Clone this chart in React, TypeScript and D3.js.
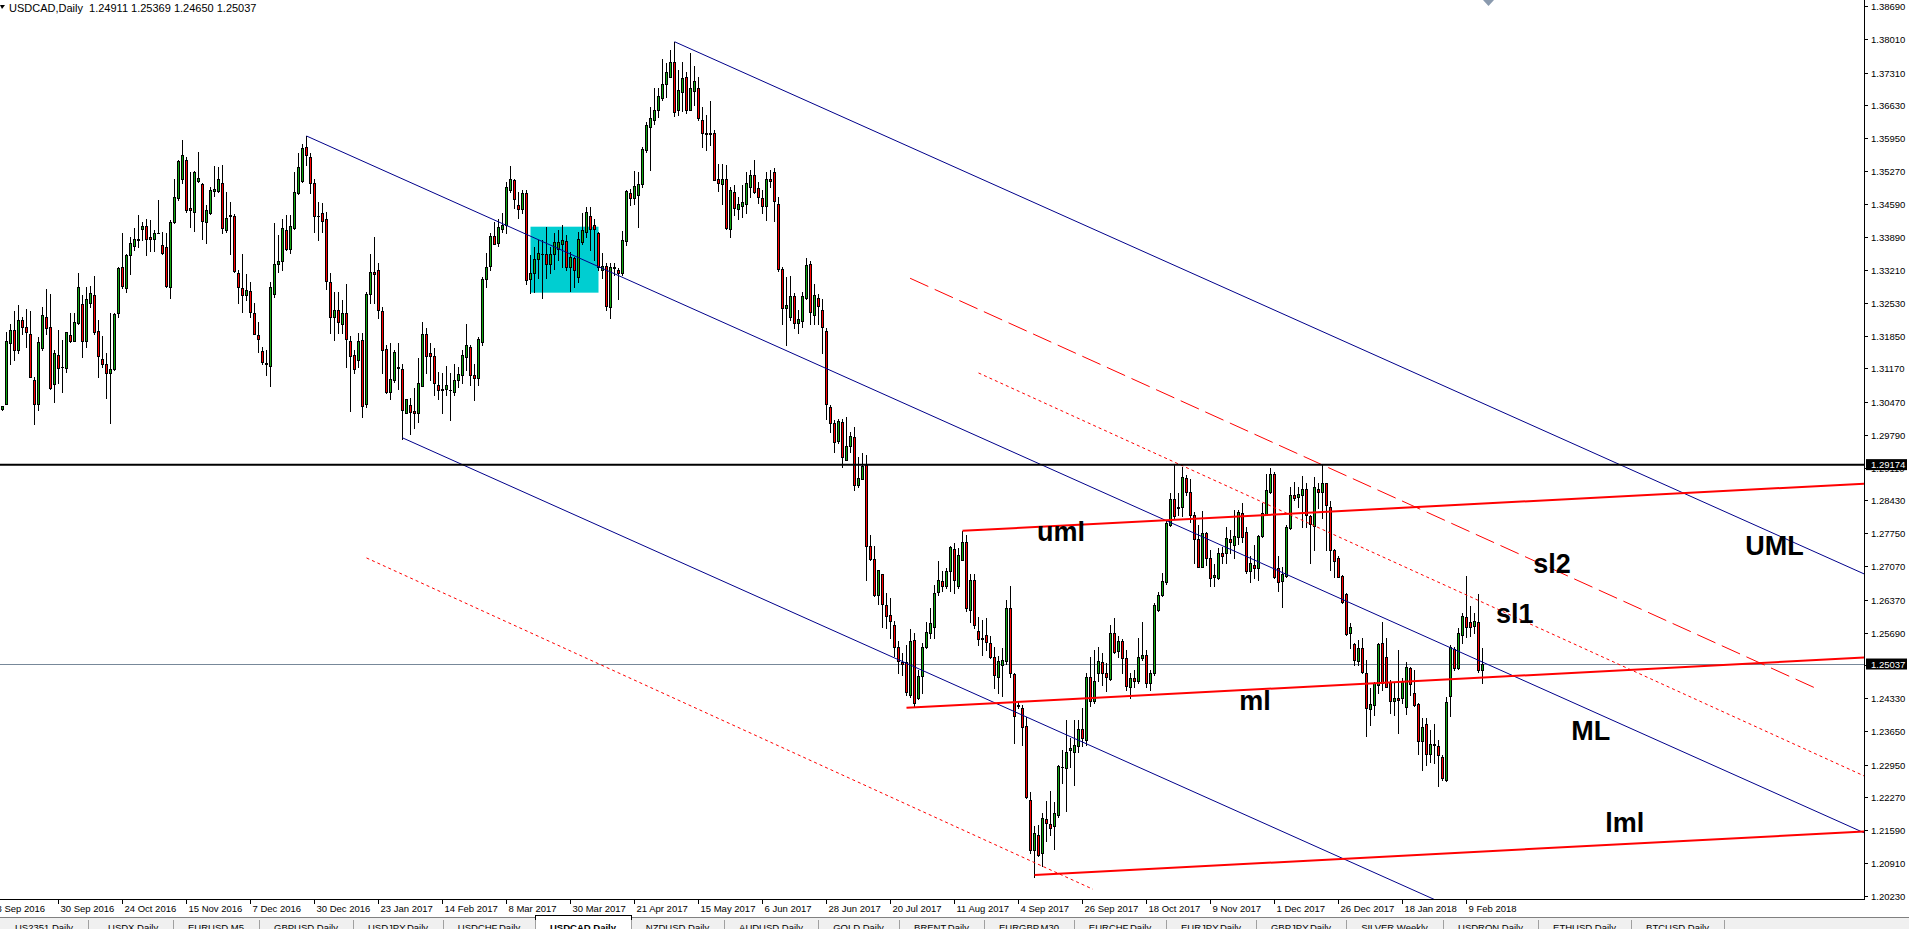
import { useEffect, useRef } from 'react';
import * as d3 from 'd3';

const symbol = 'USDCAD,Daily';

// daily bars from 12 Sep 2016, [open, high, low, close] in pips
const ohlc: number[][] = [
  [13032,13039,13030,13039],[13044,13193,13043,13173],[13169,13209,13127,13196],[13196,13236,13135,13155],
  [13156,13248,13148,13217],[13218,13224,13189,13202],[13203,13241,13162,13192],[13189,13236,13099,13099],
  [13094,13099,13001,13044],[13044,13182,13030,13171],[13160,13245,13155,13227],[13223,13281,13189,13200],
  [13202,13272,13075,13077],[13084,13155,13048,13148],[13144,13196,13086,13117],[13121,13176,13068,13119],
  [13117,13193,13110,13192],[13187,13232,13172,13174],[13174,13231,13174,13214],[13212,13314,13210,13285],
  [13250,13269,13140,13174],[13174,13286,13162,13262],[13253,13288,13245,13274],[13269,13308,13189,13193],
  [13194,13217,13099,13143],[13136,13184,13120,13127],[13127,13148,13055,13108],[13108,13231,13004,13115],
  [13115,13233,13113,13229],[13232,13328,13224,13326],[13327,13399,13283,13288],[13283,13355,13276,13352],
  [13353,13390,13313,13377],[13372,13409,13362,13385],[13383,13435,13369,13386],[13407,13421,13384,13412],
  [13413,13428,13353,13386],[13390,13425,13361,13386],[13386,13404,13361,13397],[13397,13466,13397,13399],
  [13374,13400,13355,13357],[13368,13397,13286,13288],[13287,13425,13264,13420],[13421,13511,13418,13472],
  [13470,13550,13466,13547],[13510,13591,13501,13559],[13550,13556,13442,13445],[13449,13525,13411,13445],
  [13442,13527,13402,13525],[13506,13566,13504,13512],[13499,13501,13386,13423],[13421,13456,13377,13445],
  [13440,13494,13438,13487],[13485,13537,13474,13490],[13485,13535,13483,13511],[13501,13539,13397,13409],
  [13405,13483,13400,13430],[13434,13463,13355,13436],[13434,13438,13317,13319],[13314,13321,13253,13286],
  [13283,13355,13234,13270],[13270,13313,13259,13279],[13277,13297,13224,13234],[13233,13252,13188,13189],
  [13186,13214,13151,13178],[13153,13162,13127,13131],[13129,13155,13103,13126],[13122,13297,13081,13285],
  [13272,13418,13265,13333],[13333,13393,13317,13339],[13340,13428,13321,13409],[13404,13435,13362,13364],
  [13364,13435,13357,13413],[13409,13525,13407,13483],[13480,13563,13478,13534],[13506,13582,13504,13575],
  [13576,13599,13539,13559],[13555,13563,13481,13502],[13501,13511,13400,13434],[13434,13463,13383,13433],
  [13440,13460,13400,13423],[13427,13442,13281,13299],[13297,13314,13191,13224],[13224,13276,13176,13239],
  [13239,13276,13191,13214],[13209,13259,13190,13231],[13231,13293,13119,13179],[13174,13185,13029,13143],
  [13144,13155,13107,13115],[13134,13190,13119,13174],[13176,13190,13017,13040],[13043,13276,13037,13271],
  [13271,13354,13252,13318],[13318,13390,13252,13313],[13321,13335,13221,13238],[13236,13245,13107,13156],
  [13158,13165,13065,13069],[13069,13169,13053,13096],[13093,13155,13089,13152],[13121,13169,13075,13117],
  [13115,13127,12970,13031],[13024,13053,13024,13053],[13042,13055,12981,13027],[13029,13076,12993,13024],
  [13025,13138,13006,13086],[13080,13213,13080,13188],[13188,13200,13107,13143],[13148,13170,13093,13143],
  [13143,13159,13062,13086],[13082,13110,13053,13072],[13074,13107,13025,13072],[13075,13122,13062,13082],
  [13072,13107,13010,13072],[13069,13127,13062,13093],[13094,13120,13079,13105],[13104,13155,13086,13144],
  [13140,13210,13114,13165],[13161,13165,13082,13103],[13103,13127,13051,13098],[13098,13183,13082,13179],
  [13172,13307,13165,13302],[13302,13357,13286,13327],[13330,13397,13322,13392],[13392,13421,13375,13376],
  [13378,13428,13371,13410],[13407,13439,13401,13414],[13414,13504,13397,13493],[13487,13537,13484,13511],
  [13508,13511,13449,13468],[13456,13484,13430,13447],[13447,13487,13439,13481],[13482,13487,13293,13300],
  [13302,13352,13274,13314],[13314,13369,13276,13345],[13345,13383,13304,13356],[13354,13383,13264,13354],
  [13354,13411,13304,13333],[13333,13369,13315,13354],[13354,13397,13324,13380],[13364,13404,13342,13380],
  [13376,13414,13327,13383],[13381,13394,13322,13328],[13328,13359,13278,13349],[13347,13349,13285,13321],
  [13307,13401,13297,13385],[13380,13439,13375,13404],[13401,13452,13390,13442],[13433,13451,13363,13407],
  [13414,13428,13342,13407],[13397,13401,13321,13327],[13322,13357,13304,13329],[13329,13335,13238,13246],
  [13245,13335,13222,13327],[13328,13335,13311,13325],[13321,13325,13262,13315],[13314,13403,13311,13383],
  [13382,13488,13373,13485],[13480,13490,13456,13470],[13470,13526,13459,13495],[13477,13525,13411,13499],
  [13499,13577,13494,13573],[13570,13629,13567,13623],[13617,13660,13529,13636],[13632,13698,13624,13654],
  [13653,13698,13639,13682],[13679,13758,13674,13708],[13708,13750,13681,13733],[13722,13778,13722,13752],
  [13752,13795,13641,13650],[13654,13736,13643,13695],[13691,13753,13652,13719],[13721,13733,13646,13654],
  [13654,13772,13653,13698],[13692,13744,13663,13713],[13698,13722,13632,13636],[13632,13660,13576,13606],
  [13606,13643,13571,13603],[13605,13672,13580,13603],[13605,13612,13508,13509],[13511,13542,13486,13501],
  [13499,13542,13458,13511],[13511,13540,13406,13409],[13407,13494,13389,13488],[13484,13497,13435,13449],
  [13447,13473,13428,13458],[13453,13497,13432,13463],[13459,13525,13440,13501],[13493,13529,13473,13518],
  [13518,13549,13480,13484],[13491,13504,13460,13472],[13470,13487,13439,13454],[13454,13525,13426,13511],
  [13511,13529,13494,13506],[13524,13532,13423,13465],[13458,13473,13320,13323],[13324,13327,13210,13242],
  [13242,13307,13166,13249],[13224,13309,13217,13268],[13268,13273,13200,13212],[13212,13238,13191,13219],
  [13216,13276,13203,13268],[13264,13347,13261,13331],[13333,13340,13209,13235],[13228,13293,13209,13269],
  [13264,13271,13210,13247],[13239,13262,13148,13202],[13195,13200,13013,13044],[13038,13041,12986,13004],
  [13003,13011,12944,12964],[12967,13013,12962,13007],[13005,13013,12912,12934],[12928,13017,12927,12957],
  [12956,12986,12944,12977],[12974,12996,12865,12875],[12875,12934,12872,12889],[12887,12942,12887,12914],
  [12917,12938,12678,12749],[12749,12772,12720,12721],[12721,12749,12644,12647],[12647,12699,12629,12699],
  [12690,12690,12580,12628],[12627,12652,12578,12604],[12606,12640,12557,12592],[12585,12592,12521,12540],
  [12539,12551,12485,12509],[12507,12526,12481,12504],[12507,12544,12440,12445],[12440,12576,12436,12552],
  [12554,12568,12416,12423],[12434,12492,12431,12478],[12478,12548,12443,12539],[12539,12590,12537,12571],
  [12568,12620,12557,12589],[12580,12668,12557,12651],[12654,12717,12647,12677],[12676,12696,12656,12666],
  [12666,12703,12661,12697],[12697,12749,12656,12746],[12743,12755,12652,12679],[12666,12744,12661,12730],
  [12720,12779,12720,12756],[12757,12772,12613,12620],[12615,12690,12590,12679],[12679,12690,12578,12585],
  [12573,12602,12544,12556],[12557,12596,12523,12556],[12563,12599,12533,12549],[12547,12561,12516,12518],
  [12519,12540,12454,12481],[12477,12521,12443,12509],[12502,12537,12438,12513],[12509,12637,12504,12620],
  [12620,12665,12477,12485],[12483,12485,12340,12396],[12419,12426,12412,12416],[12412,12419,12336,12374],
  [12376,12393,12226,12228],[12222,12239,12111,12118],[12118,12167,12062,12153],[12149,12170,12106,12108],
  [12111,12194,12084,12184],[12182,12219,12136,12174],[12172,12241,12149,12163],[12167,12217,12120,12194],
  [12191,12295,12187,12293],[12290,12326,12257,12291],[12288,12388,12198,12322],[12326,12350,12291,12329],
  [12322,12388,12253,12336],[12333,12387,12322,12369],[12369,12412,12334,12350],[12347,12485,12336,12477],
  [12477,12519,12416,12426],[12426,12533,12423,12468],[12485,12540,12468,12511],[12507,12526,12461,12485],
  [12485,12506,12447,12477],[12472,12585,12471,12568],[12568,12599,12526,12528],[12530,12561,12519,12551],
  [12551,12555,12485,12516],[12516,12533,12450,12459],[12457,12485,12433,12474],[12474,12492,12457,12468],
  [12468,12557,12464,12519],[12516,12590,12512,12523],[12523,12533,12457,12465],[12465,12492,12450,12485],
  [12485,12630,12481,12627],[12616,12654,12613,12647],[12647,12692,12644,12675],[12673,12803,12670,12796],
  [12792,12858,12790,12846],[12846,12917,12806,12810],[12827,12858,12813,12830],[12829,12913,12810,12891],
  [12889,12896,12855,12861],[12861,12887,12799,12813],[12813,12820,12714,12763],[12763,12792,12705,12705],
  [12706,12821,12705,12776],[12776,12778,12709,12723],[12723,12740,12666,12682],[12684,12711,12666,12689],
  [12682,12744,12680,12734],[12734,12747,12713,12728],[12734,12788,12713,12765],[12763,12782,12734,12756],
  [12751,12823,12723,12769],[12767,12823,12753,12820],[12817,12837,12756,12767],[12778,12789,12693,12696],
  [12696,12728,12673,12714],[12709,12751,12682,12702],[12702,12772,12678,12770],[12770,12837,12767,12818],
  [12815,12898,12813,12865],[12861,12910,12858,12898],[12898,12903,12682,12685],[12702,12727,12656,12673],
  [12675,12706,12623,12691],[12687,12792,12685,12788],[12785,12872,12783,12855],[12855,12882,12844,12848],
  [12850,12872,12830,12857],[12855,12894,12789,12866],[12866,12879,12789,12813],[12811,12813,12713,12794],
  [12790,12891,12741,12871],[12866,12879,12827,12861],[12861,12919,12806,12879],[12879,12880,12741,12834],
  [12830,12841,12699,12741],[12741,12742,12685,12718],[12723,12728,12684,12685],[12687,12689,12630,12633],
  [12649,12651,12564,12566],[12568,12588,12536,12580],[12545,12548,12502,12512],[12511,12554,12502,12536],
  [12536,12557,12485,12488],[12485,12512,12355,12412],[12410,12453,12377,12421],[12419,12467,12398,12464],
  [12460,12548,12443,12545],[12547,12590,12450,12464],[12518,12557,12456,12457],[12467,12471,12402,12428],
  [12428,12464,12398,12434],[12433,12533,12360,12429],[12433,12474,12422,12469],[12415,12508,12400,12497],
  [12495,12498,12440,12462],[12444,12492,12417,12419],[12421,12422,12317,12343],[12343,12391,12283,12374],
  [12380,12391,12294,12317],[12317,12367,12301,12338],[12336,12380,12299,12338],[12334,12346,12251,12315],
  [12310,12315,12263,12267],[12263,12436,12262,12424],[12438,12543,12396,12540],[12535,12540,12492,12495],
  [12495,12578,12493,12568],[12564,12609,12547,12604],[12602,12687,12559,12581],[12590,12624,12561,12581],
  [12582,12609,12568,12594],[12590,12649,12488,12491],[12491.1,12536.9,12465.0,12503.7],
];

const priceTicks = [
  1.3869, 1.3801, 1.3731, 1.3663, 1.3595, 1.3527, 1.3459, 1.3389, 1.3321, 1.3253,
  1.3185, 1.3117, 1.3047, 1.2979, 1.2911, 1.2843, 1.2775, 1.2707, 1.2637, 1.2569,
  1.2501, 1.2433, 1.2365, 1.2295, 1.2227, 1.2159, 1.2091, 1.2023,
];

// [bar, label]
const dateTicks: [number, string][] = [
  [-2, '8 Sep 2016'], [14, '30 Sep 2016'], [30, '24 Oct 2016'], [46, '15 Nov 2016'],
  [62, '7 Dec 2016'], [78, '30 Dec 2016'], [94, '23 Jan 2017'], [110, '14 Feb 2017'],
  [126, '8 Mar 2017'], [142, '30 Mar 2017'], [158, '21 Apr 2017'], [174, '15 May 2017'],
  [190, '6 Jun 2017'], [206, '28 Jun 2017'], [222, '20 Jul 2017'], [238, '11 Aug 2017'],
  [254, '4 Sep 2017'], [270, '26 Sep 2017'], [286, '18 Oct 2017'], [302, '9 Nov 2017'],
  [318, '1 Dec 2017'], [334, '26 Dec 2017'], [350, '18 Jan 2018'], [366, '9 Feb 2018'],
];

const resistanceLevel = 1.29174;

// pitchfork anchors [bar, price]: a = handle, b / c = the two tines
const bluePitchfork = { a: [76, 1.35993], b: [168, 1.37949], c: [100, 1.2973] };
const redPitchfork = { a: [226, 1.2413], b: [240, 1.278], c: [258, 1.2066] };

// warning lines, [bar, price] from -> to
const warningLines = [
  { from: [226.9, 1.33041], to: [453.7, 1.2452], dash: '20,7' },
  { from: [244, 1.31076], to: [465.4, 1.22715], dash: '3,3' },
  { from: [91, 1.27238], to: [272.6, 1.20364], dash: '3,3' },
];

// consolidation box [bar, price]
const box = { from: [132, 1.34111], to: [149, 1.32742] };

const labels: { text: string; bar: number; price: number }[] = [
  { text: 'uml', bar: 258.6, price: 1.2759 },
  { text: 'ml', bar: 309.2, price: 1.24084 },
  { text: 'lml', bar: 400.7, price: 1.21553 },
  { text: 'UML', bar: 435.7, price: 1.273 },
  { text: 'ML', bar: 392.2, price: 1.23462 },
  { text: 'sl2', bar: 382.7, price: 1.26927 },
  { text: 'sl1', bar: 373.4, price: 1.25889 },
];

const tabs = [
  'US2351,Daily', '_USDX,Daily', 'EURUSD,M5', 'GBPUSD,Daily', 'USDJPY,Daily', 'USDCHF,Daily',
  'USDCAD,Daily', 'NZDUSD,Daily', 'AUDUSD,Daily', 'GOLD,Daily', 'BRENT,Daily', 'EURGBP,M30',
  'EURCHF,Daily', 'EURJPY,Daily', 'GBPJPY,Daily', 'SILVER,Weekly', 'USDRON,Daily', 'ETHUSD,Daily',
  'BTCUSD,Daily',
];

const W = 1909;
const H = 929;
const FONT = "'Liberation Sans', Arial, sans-serif";

const App = () => {
  const svgRef = useRef<SVGSVGElement | null>(null);

  useEffect(() => {
    if (svgRef.current === null) return;
    const root = d3.select(svgRef.current);
    root.selectAll('*').remove();

    const plotW = 1864;
    const plotH = 899;
    const bars = ohlc.map((d) => d.map((v) => v / 10000));
    const n = bars.length;

    const x = d3.scaleLinear().domain([0, n - 1]).range([2.5, 2.5 + 4 * (n - 1)]);
    const y = d3.scaleLinear().domain([1.2023, 1.3869]).range([895.7, 6]);
    const lastBar = x.invert(plotW);

    root.append('rect').attr('width', W).attr('height', H).attr('fill', '#fff');

    root
      .append('defs')
      .append('clipPath')
      .attr('id', 'plot')
      .append('rect')
      .attr('width', plotW)
      .attr('height', plotH);

    const plot = root.append('g').attr('clip-path', 'url(#plot)');

    // box behind candles
    plot
      .append('rect')
      .attr('x', x(box.from[0]))
      .attr('y', y(box.from[1]))
      .attr('width', x(box.to[0]) - x(box.from[0]))
      .attr('height', y(box.to[1]) - y(box.from[1]))
      .attr('fill', '#00ced1');

    // bid line
    const last = bars[n - 1];
    plot
      .append('line')
      .attr('x1', 0)
      .attr('x2', plotW)
      .attr('y1', Math.round(y(last[3])) + 0.5)
      .attr('y2', Math.round(y(last[3])) + 0.5)
      .attr('stroke', '#778899')
      .attr('stroke-width', 1);

    // candles
    const candles = plot.append('g').attr('shape-rendering', 'crispEdges');
    bars.forEach((d, i) => {
      const [o, h, l, c] = d;
      const cx = x(i);
      candles
        .append('line')
        .attr('x1', cx)
        .attr('x2', cx)
        .attr('y1', Math.round(y(h)))
        .attr('y2', Math.round(y(l)) + 1)
        .attr('stroke', '#000');
      const top = Math.round(y(Math.max(o, c)));
      const bot = Math.round(y(Math.min(o, c)));
      if (bot - top < 1) {
        candles
          .append('line')
          .attr('x1', cx - 1.5)
          .attr('x2', cx + 1.5)
          .attr('y1', top + 0.5)
          .attr('y2', top + 0.5)
          .attr('stroke', '#000');
      } else {
        candles
          .append('rect')
          .attr('x', cx - 1)
          .attr('y', top + 0.5)
          .attr('width', 2)
          .attr('height', bot - top)
          .attr('fill', c >= o ? '#10a810' : '#ff0000')
          .attr('stroke', '#000')
          .attr('stroke-width', 1);
      }
    });

    // pitchforks
    const drawFork = (
      f: { a: number[]; b: number[]; c: number[] },
      color: string,
      width: number,
    ) => {
      const mid = [(f.b[0] + f.c[0]) / 2, (f.b[1] + f.c[1]) / 2];
      const slope = (mid[1] - f.a[1]) / (mid[0] - f.a[0]);
      [f.a, f.b, f.c].forEach((p) => {
        plot
          .append('line')
          .attr('x1', x(p[0]))
          .attr('y1', y(p[1]))
          .attr('x2', x(lastBar))
          .attr('y2', y(p[1] + slope * (lastBar - p[0])))
          .attr('stroke', color)
          .attr('stroke-width', width);
      });
    };
    drawFork(bluePitchfork, '#00008b', 1);
    drawFork(redPitchfork, '#ff0000', 2);

    warningLines.forEach((ln) => {
      plot
        .append('line')
        .attr('x1', x(ln.from[0]))
        .attr('y1', y(ln.from[1]))
        .attr('x2', x(ln.to[0]))
        .attr('y2', y(ln.to[1]))
        .attr('stroke', '#ff0000')
        .attr('stroke-width', 1)
        .attr('stroke-dasharray', ln.dash);
    });

    // resistance line
    plot
      .append('line')
      .attr('x1', 0)
      .attr('x2', plotW)
      .attr('y1', y(resistanceLevel))
      .attr('y2', y(resistanceLevel))
      .attr('stroke', '#000')
      .attr('stroke-width', 2);

    // labels
    labels.forEach((lb) => {
      plot
        .append('text')
        .attr('x', x(lb.bar))
        .attr('y', y(lb.price))
        .attr('font-family', FONT)
        .attr('font-weight', 'bold')
        .attr('font-size', 27)
        .attr('fill', '#000')
        .text(lb.text);
    });

    // chart shift marker
    root
      .append('path')
      .attr('d', 'M1483,0 L1494,0 L1488.5,6 Z')
      .attr('fill', '#8a9aae');

    // frame
    const frame = root.append('g').attr('shape-rendering', 'crispEdges');
    frame
      .append('line')
      .attr('x1', plotW + 0.5)
      .attr('x2', plotW + 0.5)
      .attr('y1', 0)
      .attr('y2', plotH + 1)
      .attr('stroke', '#000');
    frame
      .append('line')
      .attr('x1', 0)
      .attr('x2', plotW + 1)
      .attr('y1', plotH + 0.5)
      .attr('y2', plotH + 0.5)
      .attr('stroke', '#000');

    // price axis
    const yAxis = root.append('g').attr('font-family', FONT).attr('font-size', 9.5);
    priceTicks.forEach((p) => {
      const ty = Math.round(y(p)) + 0.5;
      yAxis
        .append('line')
        .attr('x1', plotW)
        .attr('x2', plotW + 4)
        .attr('y1', ty)
        .attr('y2', ty)
        .attr('stroke', '#000')
        .attr('shape-rendering', 'crispEdges');
      yAxis
        .append('text')
        .attr('x', plotW + 7)
        .attr('y', ty + 3.5)
        .attr('fill', '#000')
        .text(p.toFixed(5));
    });

    const priceTag = (p: number) => {
      const ty = y(p);
      yAxis
        .append('rect')
        .attr('x', plotW + 2)
        .attr('y', ty - 5.5)
        .attr('width', W - plotW - 4)
        .attr('height', 11)
        .attr('fill', '#000');
      yAxis
        .append('text')
        .attr('x', plotW + 7)
        .attr('y', ty + 3.5)
        .attr('fill', '#fff')
        .text(p.toFixed(5));
    };
    priceTag(resistanceLevel);
    priceTag(last[3]);

    // date axis
    const xAxis = root.append('g').attr('font-family', FONT).attr('font-size', 9.5);
    dateTicks.forEach(([b, label]) => {
      const tx = x(b);
      xAxis
        .append('line')
        .attr('x1', tx)
        .attr('x2', tx)
        .attr('y1', plotH)
        .attr('y2', plotH + 5)
        .attr('stroke', '#000')
        .attr('shape-rendering', 'crispEdges');
      xAxis
        .append('text')
        .attr('x', tx + 2)
        .attr('y', plotH + 13)
        .attr('fill', '#000')
        .text(label);
    });

    // header
    root.append('path').attr('d', 'M0,5 L5,5 L2,9 Z').attr('fill', '#000');
    root
      .append('text')
      .attr('x', 9)
      .attr('y', 11.5)
      .attr('font-family', FONT)
      .attr('font-size', 11)
      .style('white-space', 'pre')
      .attr('fill', '#000')
      .text(`${symbol}  ${last.map((v) => v.toFixed(5)).join(' ')}`);

    // tab strip
    const tabG = root.append('g').attr('font-family', FONT).attr('font-size', 9.5);
    tabG
      .append('rect')
      .attr('x', 0)
      .attr('y', 917)
      .attr('width', W)
      .attr('height', H - 917)
      .attr('fill', '#f0f0f0');
    tabG
      .append('line')
      .attr('x1', 0)
      .attr('x2', W)
      .attr('y1', 917.5)
      .attr('y2', 917.5)
      .attr('stroke', '#808080');
    let tx = 0;
    tabs.forEach((name) => {
      const active = name === symbol;
      const t = tabG
        .append('text')
        .attr('y', 931)
        .attr('fill', '#000')
        .attr('font-weight', active ? 'bold' : 'normal')
        .text(name);
      const tw = (t.node() as SVGTextElement).getComputedTextLength();
      const w = Math.round(tw + 30);
      if (active) {
        tabG
          .insert('rect', 'text')
          .attr('x', tx + 0.5)
          .attr('y', 915.5)
          .attr('width', w)
          .attr('height', 20)
          .attr('fill', '#fff')
          .attr('stroke', '#000');
      }
      t.attr('x', tx + (w - tw) / 2);
      tabG
        .append('line')
        .attr('x1', tx + w + 0.5)
        .attr('x2', tx + w + 0.5)
        .attr('y1', 920)
        .attr('y2', H)
        .attr('stroke', '#a0a0a0');
      tx += w;
    });
  }, []);

  return (
    <svg
      ref={svgRef}
      width={W}
      height={H}
      style={{ position: 'fixed', left: 0, top: 0, display: 'block' }}
    />
  );
};

export default App;
